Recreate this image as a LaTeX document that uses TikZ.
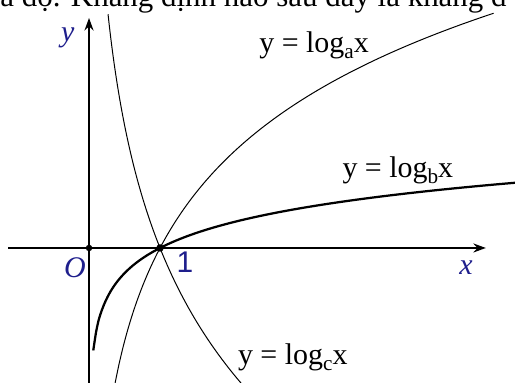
\documentclass[tikz,border=0pt]{standalone}
\usepackage{fontspec}
\setmainfont{Liberation Serif}
\newfontfamily\labelsans{Liberation Sans}
\usepackage{xcolor}
\definecolor{axisnavy}{RGB}{30,30,140}
\usetikzlibrary{arrows.meta}
\newcommand{\logsub}[1]{y = log\raisebox{-0.45ex}{\fontsize{8.5}{9}\selectfont #1}x}

\begin{document}
\begin{tikzpicture}[font=\fontsize{12}{14}\selectfont]
  \useasboundingbox (-1.254,-1.901) rectangle (6.0,3.493);
  \clip (-1.254,-1.901) rectangle (6.0,3.493);
  \node[anchor=base west,inner sep=0pt,font=\fontsize{12.4}{14}\selectfont] (head) at (-1.254,3.408) {a độ. Khẳng định nào sau đây là khẳng đ};
  % axes
  \coordinate (xl) at (-1.14,0);
  \coordinate (xr) at (5.59,0);
  \coordinate (yb) at (0,-1.95);
  \coordinate (yt) at (0,3.24);
  \draw[-{Stealth[length=5pt,width=3.6pt]},line width=0.8pt] (xl)--(xr);
  \draw[-{Stealth[length=5pt,width=3.6pt]},line width=0.8pt] (yb)--(yt);
  \node[circle,fill,inner sep=0pt,minimum size=2.6pt] (orig) at (0,0) {};
  \node[circle,fill,inner sep=0pt,minimum size=3pt] (one) at (1,0) {};
  \node[text=axisnavy,font=\fontsize{12}{14}\selectfont\itshape] (olab) at (-0.197,-0.28) {O};
  \node[text=axisnavy,font=\fontsize{12}{14}\selectfont\labelsans] (onelab) at (1.35,-0.20) {1};
  \node[text=axisnavy,font=\fontsize{12}{14}\selectfont\itshape] (xlab) at (5.31,-0.28) {x};
  \node[text=axisnavy,font=\fontsize{12}{14}\selectfont\itshape] (ylab) at (-0.30,2.96) {y};
  % curves
  \draw[thin] plot[domain=0.368:5.7,samples=100,smooth] (\x,{1.9*ln(\x)});
  \draw[line width=0.9pt] plot[domain=0.06:6,samples=150,smooth] (\x,{ln(\x)/1.95});
  \draw[thin] plot[domain=0.268:2.17,samples=100,smooth] (\x,{-2.5*ln(\x)});
  \node (alab) at (3.17,2.86) {\logsub{a}};
  \node (blab) at (4.35,1.10) {\logsub{b}};
  \node (clab) at (2.87,-1.54) {\logsub{c}};
\end{tikzpicture}
\end{document}
